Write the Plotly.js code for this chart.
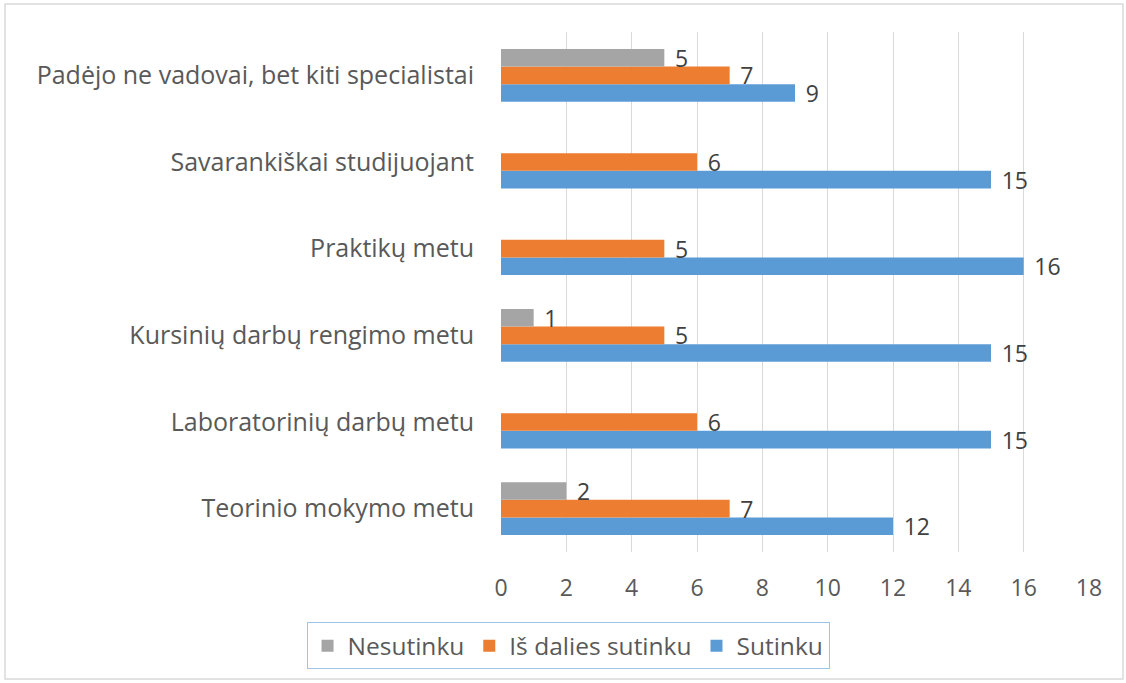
<!DOCTYPE html>
<html>
<head>
<meta charset="utf-8">
<script src="https://cdn.plot.ly/plotly-3.0.1.min.js"></script>
<style>html,body{margin:0;padding:0;background:#fff;}#chart{width:1126px;height:683px;}</style>
</head>
<body>
<div id="chart"></div>
<script>
const categories = [
  "Teorinio mokymo metu",
  "Laboratorinių darbų metu",
  "Kursinių darbų rengimo metu",
  "Praktikų metu",
  "Savarankiškai studijuojant",
  "Padėjo ne vadovai, bet kiti specialistai"
];
const nesutinku = [2, 0, 1, 0, 0, 5];
const isDaliesSutinku = [7, 6, 5, 5, 6, 7];
const sutinku = [12, 15, 15, 16, 15, 9];
const xTicks = [0, 2, 4, 6, 8, 10, 12, 14, 16, 18];

const FONT = "'Open Sans', 'Noto Sans', sans-serif";
const TXT = "#595959";
function labels(arr){ return arr.map(v => v ? "\u2009\u2009" + v : ""); }

function series(name, vals, color){
  return {
    type: "bar", orientation: "h", name: name,
    y: categories, x: vals,
    marker: {color: color},
    text: labels(vals), textposition: "outside", constraintext: "none",
    textfont: {family: FONT, size: 23, color: "#404040"},
    cliponaxis: false, hoverinfo: "x+name"
  };
}

const data = [
  series("Sutinku", sutinku, "#5B9BD5"),
  series("Iš dalies sutinku", isDaliesSutinku, "#ED7D31"),
  series("Nesutinku", nesutinku, "#A5A5A5")
];

const layout = {
  width: 1126, height: 683,
  margin: {l: 501, r: 37, t: 32, b: 131},
  paper_bgcolor: "#fff", plot_bgcolor: "#fff",
  barmode: "group", bargap: 0.39, bargroupgap: 0,
  font: {family: FONT, color: TXT, size: 23},
  showlegend: true,
  legend: {
    orientation: "h", traceorder: "reversed",
    x: 0.114, xanchor: "center", y: -0.135, yanchor: "top",
    bordercolor: "#9DC3E6", borderwidth: 1,
    font: {family: FONT, size: 24.5, color: TXT},
    itemwidth: 30
  },
  xaxis: {
    range: [0, 18], tickvals: xTicks, ticktext: xTicks.map(String),
    showgrid: true, gridcolor: "#D9D9D9", gridwidth: 1,
    zeroline: false, showline: false, ticks: "",
    ticklabelstandoff: 20,
    tickfont: {family: FONT, size: 23, color: TXT},
    fixedrange: true
  },
  yaxis: {
    type: "category", categoryorder: "array", categoryarray: categories,
    showgrid: false, zeroline: false, showline: false, ticks: "",
    ticklabelstandoff: 26,
    tickfont: {family: FONT, size: 25, color: TXT},
    fixedrange: true
  },
  shapes: [{
    type: "rect", xref: "paper", yref: "paper",
    x0: -496/588, x1: 1 + 34/588, y0: -127/520, y1: 1 + 28/520,
    line: {color: "#D9D9D9", width: 1.5}, fillcolor: "rgba(0,0,0,0)", layer: "below"
  }]
};

Plotly.newPlot("chart", data, layout, {displayModeBar: false, staticPlot: true});
</script>
</body>
</html>
